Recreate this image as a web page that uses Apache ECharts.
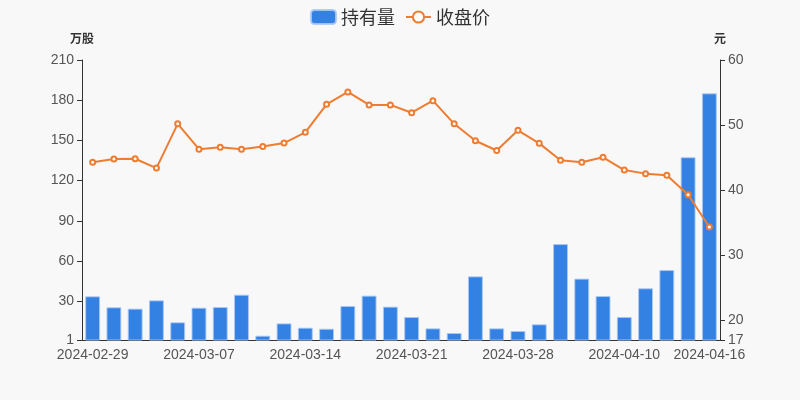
<!DOCTYPE html>
<html><head><meta charset="utf-8">
<script src="https://cdn.jsdelivr.net/npm/echarts@6/dist/echarts.min.js"></script>
<style>html,body{margin:0;padding:0;background:#f8f8f8}#c{width:800px;height:400px}</style>
</head><body><div id="c"></div>
<script>
const categories = ['2024-02-29','2024-03-01','2024-03-04','2024-03-05','2024-03-06','2024-03-07','2024-03-08','2024-03-11','2024-03-12','2024-03-13','2024-03-14','2024-03-15','2024-03-18','2024-03-19','2024-03-20','2024-03-21','2024-03-22','2024-03-25','2024-03-26','2024-03-27','2024-03-28','2024-03-29','2024-04-01','2024-04-02','2024-04-03','2024-04-10','2024-04-11','2024-04-12','2024-04-15','2024-04-16'];
const holdings = [33.6,25.4,24.4,30.6,14.2,25.1,25.6,34.8,4.2,13.4,10.2,9.4,26.4,34.1,25.9,18.2,9.7,6.2,48.5,9.7,7.7,12.7,72.6,46.8,33.8,18.2,39.6,53.2,137.4,185.1];
const closePrice = [44.3,44.8,44.84,43.4,50.2,46.3,46.6,46.3,46.7,47.25,48.9,53.2,55.1,53.1,53.1,51.9,53.75,50.2,47.6,46.1,49.2,47.2,44.6,44.3,45.05,43.1,42.55,42.3,39.3,34.35];
const leftTickValues = [1,30,60,90,120,150,180,210];
const rightTickValues = [17,20,30,40,50,60];

const chart = echarts.init(document.getElementById('c'), null, {renderer:'canvas'});
const cjk = "'Noto Sans CJK SC', 'Noto Sans', sans-serif";
const latin = "'Liberation Sans', Arial, sans-serif";
function yAxisCfg(name, ticks){
  return {
    type:'value', name:name, min:ticks[0], max:ticks[ticks.length-1],
    nameGap:16, nameTextStyle:{fontWeight:'bold', fontSize:12, color:'#333', align:'center', fontFamily:cjk},
    axisLine:{show:true, lineStyle:{color:'#333'}},
    axisTick:{show:true, customValues:ticks, lineStyle:{color:'#333'}},
    splitLine:{show:false},
    axisLabel:{color:'#555', fontSize:14, fontFamily:latin, customValues:ticks}
  };
}
chart.setOption({
  backgroundColor:'#f8f8f8',
  textStyle:{fontFamily:cjk},
  legend:{
    top:3, left:'center', itemWidth:25, itemHeight:14, itemGap:10,
    textStyle:{fontSize:18, color:'#333', fontFamily:cjk},
    data:[{name:'持有量', icon:'roundRect'}, {name:'收盘价'}]
  },
  grid:{left:82, right:80, top:60, bottom:60},
  xAxis:{
    type:'category', data:categories, boundaryGap:true,
    axisLine:{lineStyle:{color:'#333'}},
    axisTick:{lineStyle:{color:'#333'}},
    axisLabel:{color:'#555', fontSize:14, fontFamily:latin,
      interval:function(i){return i%5===0 || i===categories.length-1;}}
  },
  yAxis:[yAxisCfg('万股', leftTickValues), yAxisCfg('元', rightTickValues)],
  series:[{
    name:'持有量', type:'bar', yAxisIndex:0, data:holdings, barWidth:'70%',
    itemStyle:{color:'#3381e2', borderColor:'rgba(170,200,245,0.9)', borderWidth:1}
  },{
    name:'收盘价', type:'line', yAxisIndex:1, data:closePrice,
    symbol:'emptyCircle', symbolSize:5,
    lineStyle:{color:'#ee7c31', width:2},
    itemStyle:{color:'#ee7c31', borderColor:'#ee7c31'}
  }]
});
</script></body></html>
